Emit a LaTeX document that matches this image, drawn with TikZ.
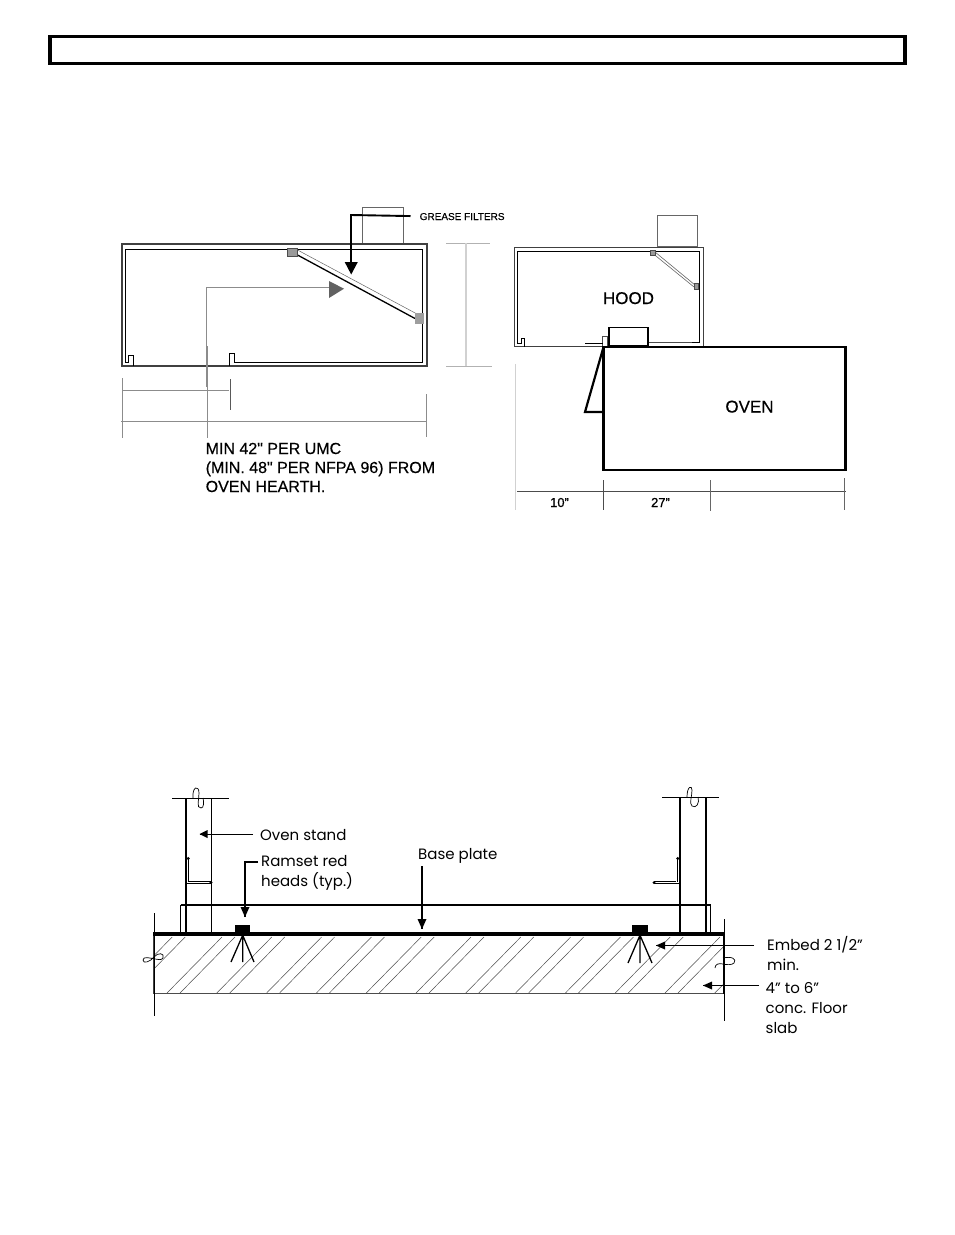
\documentclass[tikz,border=0pt]{standalone}
\usepackage{fontspec}
\setmainfont[Ligatures=TeXOff]{Liberation Sans}
\newfontfamily\boldish[Ligatures=TeXOff,FakeBold=0.35]{Liberation Sans}
\newfontfamily\boldisher[Ligatures=TeXOff,FakeBold=0.8]{Liberation Sans}
\newfontfamily\geofont{Poppins}
\tikzset{
  x=1pt,y=-1pt,
  thinblk/.style={draw=black,line width=0.8pt},
  wallo/.style={draw=black!75,line width=1.2pt},
  walli/.style={draw=black,line width=1pt},
  dimline/.style={draw=black!45,line width=0.7pt},
  paledim/.style={draw=black!18,line width=1.1pt},
  duct/.style={draw=black!60,line width=0.7pt},
  filt/.style={draw=black!70,fill=black!40,line width=0.5pt},
  heavy/.style={draw=black,line width=2.2pt},
  upper/.style={font=\boldish\fontsize{16}{19}\selectfont,inner sep=0pt,align=left},
  upperc/.style={font=\boldish\fontsize{17}{19}\selectfont,inner sep=0pt},
  dimtxt/.style={font=\boldisher\fontsize{13}{15}\selectfont,inner sep=0pt},
  lower/.style={font=\geofont\fontsize{15}{20}\selectfont,inner sep=0pt,align=left},
  pointer/.style={draw=black,line width=0.9pt},
  hatch/.style={draw=black!70,line width=0.5pt},
  squig/.style={draw=black,line width=0.7pt},
}
\begin{document}
\begin{tikzpicture}
\useasboundingbox[fill=white] (0,0) rectangle (954,1235);
% title frame
\draw[line width=3.6pt] (50,36.5) rectangle (905,63.5);

%% ---- left hood ----
\draw[duct] (362.3,207.3) rectangle (403.5,244);
\draw[wallo] (122,244) rectangle (427,366);
\draw[walli] (133.3,366) -- (133.3,355.7) -- (128,355.7) -- (128,362.3) -- (125.7,362.3) -- (125.7,249.3) -- (422.7,249.3) -- (422.7,362.3) -- (234,362.3) -- (234,353.3) -- (229,353.3) -- (229,366);
\coordinate (fa) at (292.5,252.3);
\coordinate (fb) at (419.5,318.5);
\draw[draw=black,line width=1.3pt] (297.5,255) -- (415,318.5);
\draw[draw=black!60,line width=0.5pt] (297.5,250) -- (417,314);
\node[filt,minimum width=10pt,minimum height=8pt,inner sep=0pt] (fsqa) at (fa) {};
\node[filt,draw=none,fill=black!38,minimum width=9pt,minimum height=10.5pt,inner sep=0pt] (fsqb) at (fb) {};

\node[anchor=base west,inner sep=0pt,font=\boldish\fontsize{10}{12}\selectfont] (gf) at (419.5,220) {GREASE FILTERS};
\coordinate (gfa) at (351,262.5);
\draw[draw=black,line width=1.9pt] (gf.west) ++(-9,-0.5) -- (351,215) -- (gfa);
\fill[black] (344.7,262) -- (357.8,262) -- (351.2,274.5) -- cycle;

% height leader with grey triangle
\coordinate (trip) at (329,287.3);
\fill[black!62] (329,281) -- (344,288.7) -- (329,298) -- cycle;
\draw[dimline] (trip) -- (206.7,287.3) -- (206.7,387);
\draw[dimline] (207.5,346) -- (207.5,438);
% dims
\draw[dimline] (122,378) -- (122,438);
\draw[dimline] (122,390.5) -- (229,390.5);
\draw[draw=black!65,line width=0.7pt] (230.5,379) -- (230.5,410);
\draw[dimline] (121,421.5) -- (427,421.5);
\draw[dimline] (426.5,394) -- (426.5,437);
\draw[draw=black!30,line width=0.7pt] (446,243) -- (489.5,243);
\draw[draw=black!30,line width=0.7pt] (446,366.5) -- (492,366.5);
\draw[paledim] (466,243) -- (466,366);
\node[upper,anchor=base west] (minu) at (205.5,454) {MIN 42" PER UMC};
\node[upper,anchor=base west] (minn) at (205.5,473) {(MIN. 48" PER NFPA 96) FROM};
\node[upper,anchor=base west] (minh) at (205.5,492) {OVEN HEARTH.};

%% ---- right hood & oven ----
\draw[duct] (657.3,215.3) rectangle (697.3,246.7);
\draw[wallo] (514.7,247.7) rectangle (703.3,346.7);
\draw[walli] (524.7,346.7) -- (524.7,338.3) -- (521.7,338.3) -- (521.7,343.3) -- (517.3,343.3) -- (517.3,251) -- (699,251) -- (699,342.7) -- (692,342.7);
\draw[draw=black!70,line width=1pt] (692,342.7) -- (648,342.7);
\draw[draw=black!60,line width=0.6pt] (655,252) -- (695,285);
\draw[draw=black!60,line width=0.6pt] (653.5,254) -- (694,287);
\node[filt,minimum width=4.5pt,minimum height=4.5pt,inner sep=0pt] (fsqc) at (652.5,252.5) {};
\node[filt,minimum width=4pt,minimum height=6pt,inner sep=0pt] (fsqd) at (696,286) {};
\node[upperc,anchor=base] (hood) at (628.5,304) {HOOD};
\draw[draw=black,line width=1.9pt] (608.8,345.5) rectangle (648,327.5);
\draw[draw=black!70,line width=0.6pt] (602.6,346) rectangle (607.6,336.5);
\draw[draw=black,line width=0.7pt] (585,343) -- (602.6,343);
\node[heavy,minimum width=242pt,minimum height=123pt,inner sep=0pt,outer sep=0pt,anchor=north west] (oven) at (603.5,347) {};
\node[upperc,anchor=base] (ovent) at (749.5,412.5) {OVEN};
\draw[heavy,line join=miter] (603.5,347) -- (585,412) -- (603.5,412);
% dims
\draw[paledim] (515.5,364) -- (515.5,510);
\draw[draw=black!70,line width=0.6pt] (517,491.5) -- (846,491.5);
\draw[draw=black!70,line width=0.6pt] (603.5,480) -- (603.5,510);
\draw[draw=black!60,line width=0.6pt] (710.5,480) -- (710.5,511);
\draw[draw=black!60,line width=0.6pt] (844.5,478) -- (844.5,510);
\node[dimtxt,anchor=base] (dten) at (559.5,507) {10”};
\node[dimtxt,anchor=base] (dtw) at (660.5,507) {27”};

%% ---- floor slab section ----
\begin{scope}
\clip (153.5,936) rectangle (724,993.5);
\foreach \k in {-1,...,11}{
  \draw[hatch] ({167+49.8*\k},993) -- ({222+49.8*\k},937);
  \draw[hatch] ({180+49.8*\k},993) -- ({235+49.8*\k},937);
}
\end{scope}
\draw[draw=black!70,line width=1.1pt] (154,993.5) -- (724,993.5);
\draw[draw=black!75,line width=1.6pt] (154,935) -- (154,993.5);
\draw[draw=black,line width=1.4pt] (723.5,935) -- (723.5,993.5);
\draw[thinblk] (154.3,913) -- (154.3,1016);
\draw[thinblk] (724.3,919) -- (724.3,1021);
\draw[squig] (163,958) .. controls (165,953) and (158,952) .. (154,957) .. controls (150,962) and (143,964) .. (143,960) .. controls (143,956) and (150,958) .. (155,959) .. controls (158,960) and (162,960) .. (163,958);
\draw[squig] (715,968) .. controls (715,964) and (719,963) .. (723,964) .. controls (727,965) and (732,965) .. (734,963) .. controls (737,959) and (732,956) .. (723,958);

% plate
\draw[draw=black,line width=1.1pt] (180.7,933) -- (180.7,905);
\draw[draw=black,line width=1.1pt] (180.7,905) -- (710.7,905) -- (710.7,933);
\draw[draw=black,line width=3.6pt] (153,934.2) -- (724.5,934.2);

% left stand
\draw[draw=black,line width=1.6pt] (185.7,798.5) -- (185.7,933);
\draw[draw=black,line width=0.9pt] (211.5,798.5) -- (211.5,933);
\draw[draw=black,line width=0.9pt] (172,798.5) -- (229,798.5);
\draw[squig] (193,798) .. controls (192,786) and (199,785) .. (199,793) .. controls (199,800) and (196,808) .. (201,808) .. controls (204,808) and (204,802) .. (203,798);
\draw[draw=black,line width=1.3pt] (188.3,858) -- (188.3,882) (186,883.7) -- (211,883.7) (188.3,881.5) -- (211,881.5);
\fill[black] (188.3,858.5) circle (1.6pt) (211,882.5) circle (1.6pt);

% right stand
\draw[draw=black,line width=1.4pt] (680,798) -- (680,933);
\draw[draw=black,line width=1.4pt] (706,798) -- (706,933);
\draw[draw=black,line width=1.5pt] (662,797.7) -- (719,797.7);
\draw[squig] (687,797) .. controls (687,786) and (692,785) .. (692,790) .. controls (692,797) and (689,803) .. (692,806) .. controls (696,809) and (700,803) .. (698,797);
\draw[draw=black,line width=1.3pt] (677.7,858) -- (677.7,882) (654,883.7) -- (680,883.7) (654,881.5) -- (676,881.5);
\fill[black] (677.7,858.5) circle (1.6pt) (654,882.6) circle (1.6pt);

% anchors
\node[fill=black,minimum width=15.5pt,minimum height=8pt,inner sep=0pt] (anl) at (242.7,929) {};
\node[fill=black,minimum width=15.5pt,minimum height=8pt,inner sep=0pt] (anr) at (640,929) {};
\draw[draw=black,line width=1.3pt] (anl.south) ++(0,2) -- (231,962) (anl.south) ++(0,2) -- (242.7,962) (anl.south) ++(0,2) -- (254,962);
\draw[draw=black,line width=1.3pt] (anr.south) ++(0,2) -- (628,963) (anr.south) ++(0,2) -- (640,963) (anr.south) ++(0,2) -- (652,963);

% labels
\node[lower,anchor=base west] (ostand) at (260,840) {Oven stand};
\node[lower,anchor=base west] (ramset) at (261,866.7) {Ramset red};
\node[lower,anchor=base west] (heads) at (261,886.7) {heads (typ.)};
\node[lower,anchor=base west] (bplate) at (418,859) {Base plate};
\node[lower,anchor=base west] (embed) at (767,950) {Embed 2 1/2”};
\node[lower,anchor=base west] (emin) at (767,970) {min.};
\node[lower,anchor=base west] (four) at (765.5,993) {4” to 6”};
\node[lower,anchor=base west] (conc) at (765.5,1013) {conc. Floor};
\node[lower,anchor=base west] (slab) at (765.5,1033) {slab};

\coordinate (tos) at (199.5,834);
\coordinate (tors) at (245,917);
\coordinate (tobp) at (422,929);
\coordinate (toem) at (656,945.5);
\coordinate (tocs) at (703,985.5);
\draw[pointer] (253,834) -- (tos);
\fill[black] (tos) -- ++(8,-4) -- ++(0,8) -- cycle;
\draw[pointer,line width=1.3pt] (258,862) -- (245,862) -- (tors);
\fill[black] (tors) -- ++(-4.5,-10) -- ++(9,0) -- cycle;
\draw[pointer,line width=1.3pt] (422,866) -- (tobp);
\fill[black] (tobp) -- ++(-4.5,-10) -- ++(9,0) -- cycle;
\draw[pointer,line width=1.5pt] (754,945.5) -- (toem);
\fill[black] (toem) -- ++(9,-4) -- ++(0,8) -- cycle;
\draw[pointer] (759,985.5) -- (tocs);
\fill[black] (tocs) -- ++(9,-4) -- ++(0,8) -- cycle;
\end{tikzpicture}
\end{document}
